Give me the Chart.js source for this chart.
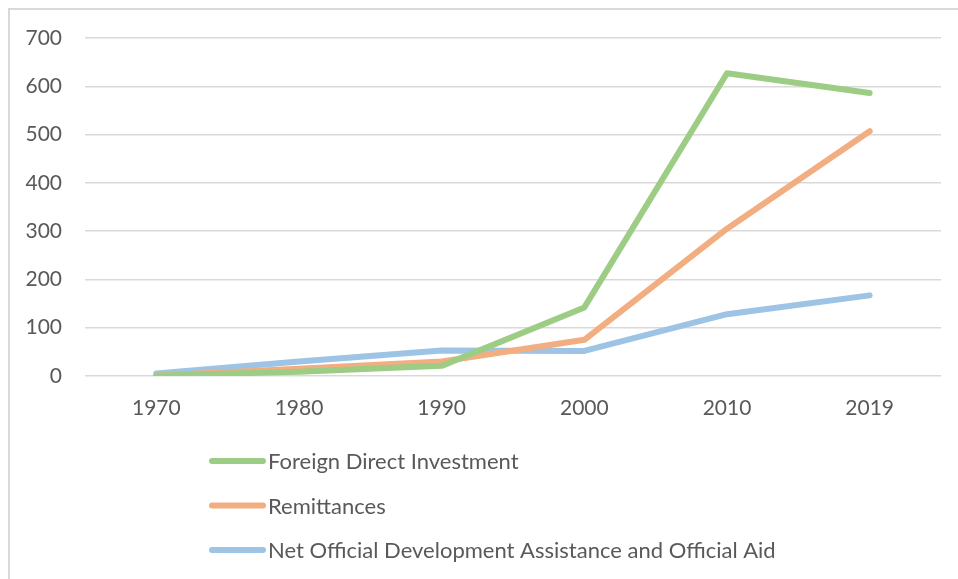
<!DOCTYPE html>
<html>
<head>
<meta charset="utf-8">
<script src="https://cdn.jsdelivr.net/npm/chart.js@4.4.0/dist/chart.umd.min.js"></script>
<style>
  html, body { margin: 0; padding: 0; background: #fff; }
  #wrap { position: relative; width: 958px; height: 579px; overflow: hidden; }
  /* marco gris del gráfico (solo se ven los bordes superior e izquierdo) */
  #marco { position: absolute; left: 8px; top: 8px; width: 1000px; height: 1000px;
           border-left: 2px solid #d9d9d9; border-top: 2px solid #d9d9d9; }
  canvas { position: absolute; left: 0; top: 0; }
</style>
</head>
<body>
<div id="wrap">
  <div id="marco"></div>
  <canvas id="grafico" width="958" height="579"></canvas>
</div>
<script>
// Datos (miles de millones)
const anios = ['1970', '1980', '1990', '2000', '2010', '2019'];
const inversionExtranjera = [1, 9, 21, 142, 627, 586];
const remesas = [1, 15, 30, 75, 305, 507];
const ayudaOficial = [5, 30, 53, 52, 128, 167];
const ticksY = [0, 100, 200, 300, 400, 500, 600, 700];

const colorTexto = '#595959';
const fuente = 'Lato, "Open Sans", sans-serif';

// Leyenda vertical debajo del eje, como en Excel
const leyendaVertical = {
  id: 'leyendaVertical',
  afterDraw(chart) {
    const ctx = chart.ctx;
    ctx.save();
    chart.data.datasets.forEach((ds, i) => {
      const y = 461 + i * 44.5;
      ctx.strokeStyle = ds.borderColor;
      ctx.lineWidth = 6;
      ctx.lineCap = 'round';
      ctx.beginPath();
      ctx.moveTo(212, y);
      ctx.lineTo(263, y);
      ctx.stroke();
      ctx.fillStyle = colorTexto;
      ctx.font = '22px ' + fuente;
      ctx.textBaseline = 'middle';
      ctx.fillText(ds.label, 268, y + 1);
    });
    ctx.restore();
  }
};

const serie = (label, data, color) => ({
  label, data,
  borderColor: color,
  backgroundColor: color,
  borderWidth: 6,
  borderCapStyle: 'round',
  borderJoinStyle: 'round',
  pointRadius: 0,
  tension: 0,
  fill: false
});

new Chart(document.getElementById('grafico'), {
  type: 'line',
  data: {
    labels: anios,
    datasets: [
      serie('Foreign Direct Investment', inversionExtranjera, '#9dcd84'),
      serie('Remittances', remesas, '#f2ad80'),
      serie('Net Official Development Assistance and Official Aid', ayudaOficial, '#9dc3e5')
    ]
  },
  options: {
    responsive: false,
    animation: false,
    layout: { padding: { left: 0, top: 38, right: 17, bottom: 163 } },
    plugins: { legend: { display: false }, tooltip: { enabled: false } },
    scales: {
      x: {
        offset: true,
        grid: { display: false },
        border: { display: false },
        ticks: { color: colorTexto, font: { family: fuente, size: 21 }, padding: 12 },
        afterFit(scale) { scale.height = 40; }
      },
      y: {
        min: 0, max: 700,
        afterBuildTicks(scale) { scale.ticks = ticksY.map(v => ({ value: v })); },
        grid: { color: '#d9d9d9', lineWidth: 1.5, drawTicks: false },
        border: { display: false },
        ticks: { color: colorTexto, font: { family: fuente, size: 21 }, padding: 23 },
        afterFit(scale) { scale.width = 85; }
      }
    }
  },
  plugins: [leyendaVertical]
});
</script>
</body>
</html>
